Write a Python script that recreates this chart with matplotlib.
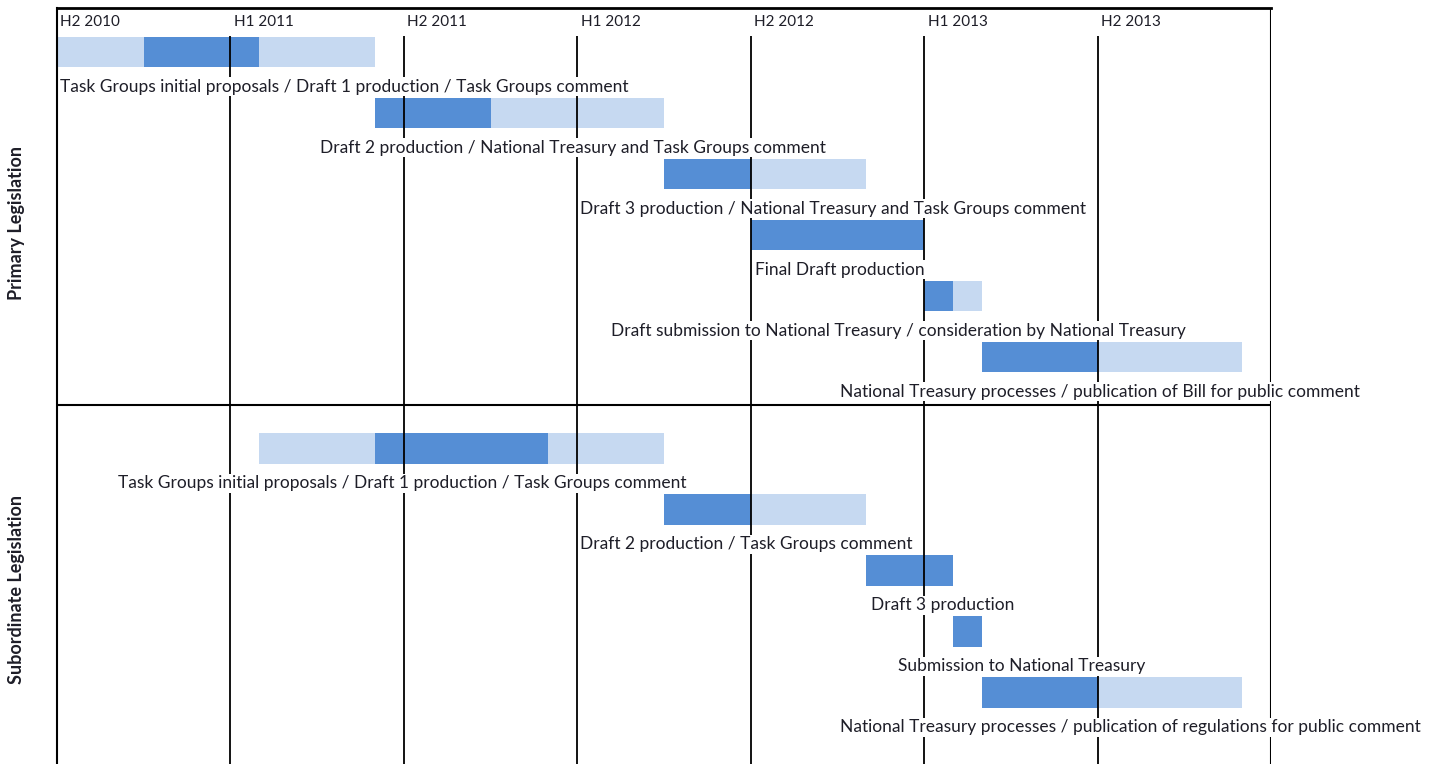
#!/usr/bin/env python
"""
plot.py - Legislation drafting timeline (Gantt style), primary vs subordinate legislation.

Months are counted from the start of H2 2010; dark = core activity, light = full window.
"""
import matplotlib
matplotlib.use("Agg")
import matplotlib.pyplot as plt
import numpy as np

# --- data (months from Jul 2010) ---
half_years = ["H2 2010", "H1 2011", "H2 2011", "H1 2012", "H2 2012", "H1 2013", "H2 2013"]

primary_tasks = [
    "Task Groups initial proposals / Draft 1 production / Task Groups comment",
    "Draft 2 production / National Treasury and Task Groups comment",
    "Draft 3 production / National Treasury and Task Groups comment",
    "Final Draft production",
    "Draft submission to National Treasury / consideration by National Treasury",
    "National Treasury processes / publication of Bill for public comment",
]
primary_light_start = [0, 11, 21, np.nan, 30, 32]
primary_light_end = [11, 21, 28, np.nan, 32, 41]
primary_dark_start = [3, 11, 21, 24, 30, 32]
primary_dark_end = [7, 15, 24, 30, 31, 36]

sub_tasks = [
    "Task Groups initial proposals / Draft 1 production / Task Groups comment",
    "Draft 2 production / Task Groups comment",
    "Draft 3 production",
    "Submission to National Treasury",
    "National Treasury processes / publication of regulations for public comment",
]
sub_light_start = [7, 21, np.nan, np.nan, 32]
sub_light_end = [21, 28, np.nan, np.nan, 41]
sub_dark_start = [11, 21, 28, 31, 32]
sub_dark_end = [17, 24, 31, 32, 36]

# where each caption starts (months), as placed in the original layout
primary_label_x = [0.1, 9.1, 18.1, 24.15, 19.15, 27.1]
sub_label_x = [2.1, 18.1, 28.15, 29.1, 27.1]

DARK = "#558ED5"
LIGHT = "#C6D9F1"
TXT = "#1e1e28"
FONT = "Lato"


def draw_group(ax, y0, tasks, ls, le, ds, de, lx):
    ys = y0 + np.arange(len(tasks))
    ls, le, ds, de = map(np.asarray, (ls, le, ds, de))
    ax.barh(ys, le - ls, left=ls, height=0.5, color=LIGHT, zorder=1)
    ax.barh(ys, de - ds, left=ds, height=0.5, color=DARK, zorder=1.5)
    for y, t, x in zip(ys, tasks, lx):
        ax.text(x, y + 0.57, t, ha="left", va="center", fontsize=12.5, color=TXT,
                family=FONT, zorder=4, clip_on=False,
                bbox=dict(facecolor="white", edgecolor="none", pad=1.0))


def main():
    fig = plt.figure(figsize=(14.46, 7.64), dpi=100)
    ax = fig.add_axes([57 / 1446, 0, 1214 / 1446, 756 / 764])
    ax.set_xlim(0, 42)
    ax.set_ylim(11.67, -0.72)

    sub_y0 = len(primary_tasks) + 0.5
    draw_group(ax, 0, primary_tasks, primary_light_start, primary_light_end,
               primary_dark_start, primary_dark_end, primary_label_x)
    draw_group(ax, sub_y0, sub_tasks, sub_light_start, sub_light_end,
               sub_dark_start, sub_dark_end, sub_label_x)

    # half-year grid lines (drawn over the bars, under the captions)
    ticks = np.arange(len(half_years)) * 6
    ax.vlines(ticks[1:], 11.67, -0.26, color="black", lw=1.3, zorder=3)
    ax.vlines(42, 11.67, -0.72, color="black", lw=1.5, zorder=3)
    ax.hlines(5.78, 0, 42, color="black", lw=1.5, zorder=3)
    for t, name in zip(ticks, half_years):
        ax.text(t + 0.12, -0.49, name, ha="left", va="center", fontsize=11,
                color=TXT, family=FONT)

    for s in ["bottom", "right"]:
        ax.spines[s].set_visible(False)
    ax.spines["top"].set_linewidth(2)
    ax.spines["left"].set_linewidth(1.5)
    ax.set_xticks([])
    ax.set_yticks([])

    fig.text(17 / 1446, 1 - 223 / 764, "Primary Legislation", rotation=90,
             ha="center", va="center", fontsize=13, fontweight="bold",
             color=TXT, family=FONT)
    fig.text(17 / 1446, 1 - 589 / 764, "Subordinate Legislation", rotation=90,
             ha="center", va="center", fontsize=13, fontweight="bold",
             color=TXT, family=FONT)

    fig.savefig("out.png", dpi=100)


if __name__ == "__main__":
    main()
